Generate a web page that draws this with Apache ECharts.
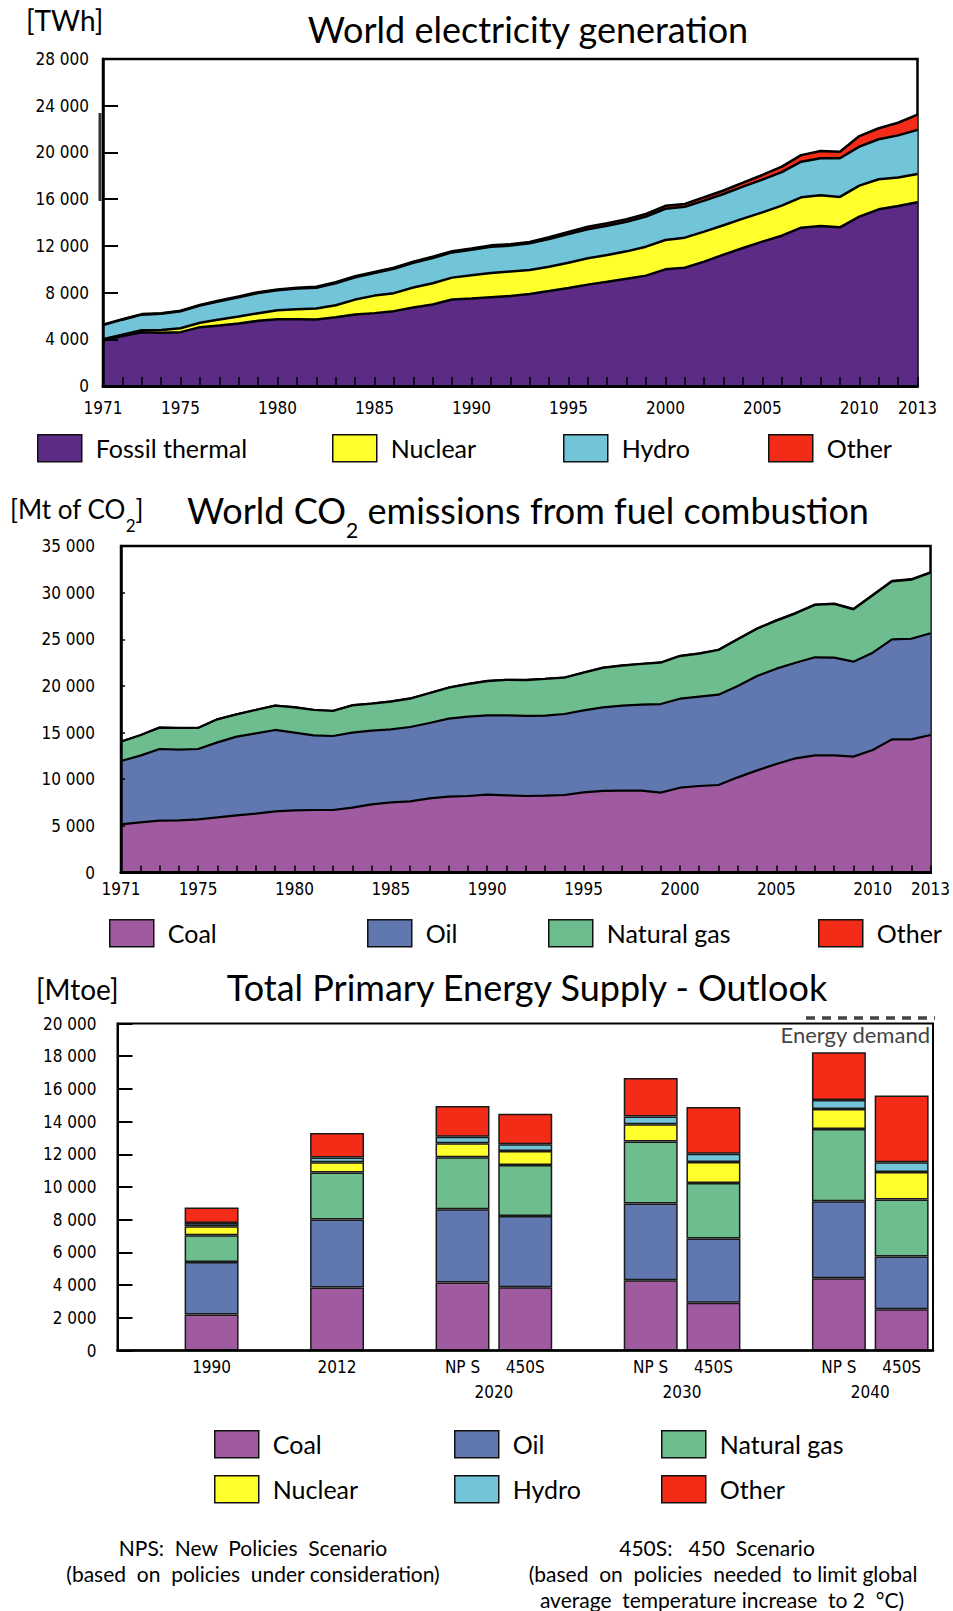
<!DOCTYPE html>
<html><head><meta charset="utf-8">
<script src="https://cdn.jsdelivr.net/npm/echarts@6/dist/echarts.min.js"></script>
<style>html,body{margin:0;padding:0;background:#fff}#c{width:953px;height:1611px}</style>
</head><body><div id="c"></div>
<script>
// ---------- DATA ----------
const years = ['1971','1972','1973','1974','1975','1976','1977','1978','1979','1980','1981','1982','1983','1984','1985','1986','1987','1988','1989','1990','1991','1992','1993','1994','1995','1996','1997','1998','1999','2000','2001','2002','2003','2004','2005','2006','2007','2008','2009','2010','2011','2012','2013'];
const yearLabels = ['1971','1975','1980','1985','1990','1995','2000','2005','2010','2013'];

// World electricity generation [TWh]
const elecFossil  = [3900,4270,4610,4560,4610,5040,5180,5350,5580,5720,5720,5690,5890,6120,6240,6410,6720,6980,7400,7490,7600,7700,7880,8130,8390,8680,8930,9190,9450,9990,10130,10650,11250,11820,12360,12870,13560,13700,13590,14500,15130,15410,15730];
const elecNuclear = [110,130,160,230,340,370,510,600,650,770,850,940,1030,1280,1500,1540,1710,1820,1880,1990,2080,2110,2060,2080,2170,2260,2280,2340,2480,2510,2570,2570,2510,2510,2510,2570,2600,2630,2600,2660,2570,2450,2430];
const elecHydro   = [1200,1280,1340,1400,1450,1480,1570,1650,1740,1710,1770,1790,1880,1910,1940,2080,2110,2160,2160,2190,2250,2210,2280,2370,2450,2480,2510,2540,2570,2680,2650,2650,2680,2740,2800,2880,3050,3170,3310,3340,3430,3600,3770];
const elecOther   = [40,42,45,48,50,55,58,62,65,70,75,78,82,86,90,95,100,104,108,110,112,114,120,160,190,210,210,210,230,250,240,290,300,340,400,460,560,620,560,900,940,1080,1310];

// World CO2 emissions from fuel combustion [Mt of CO2]
const co2Coal  = [5160,5380,5560,5590,5700,5910,6130,6310,6560,6660,6700,6700,6950,7310,7520,7630,7950,8130,8200,8340,8270,8200,8240,8310,8590,8740,8770,8770,8560,9090,9270,9380,10200,10950,11630,12240,12560,12560,12420,13130,14270,14270,14740];
const co2Oil   = [6790,7150,7680,7580,7540,8040,8430,8610,8720,8330,8000,7930,8040,7900,7830,7970,8080,8360,8500,8500,8580,8600,8580,8680,8790,8970,9110,9220,9500,9540,9580,9680,9790,10110,10220,10250,10510,10470,10180,10430,10720,10790,10900];
const co2Gas   = [2070,2180,2290,2320,2250,2470,2390,2500,2610,2720,2720,2680,2930,2890,2970,3040,3180,3320,3500,3680,3790,3830,3930,3890,4040,4220,4290,4360,4430,4570,4610,4790,5000,5070,5150,5290,5610,5750,5610,6150,6220,6330,6500];
const co2Other = [10,10,11,11,12,12,13,13,14,14,15,15,16,16,17,18,18,19,20,20,21,22,22,23,24,25,26,27,28,29,30,32,33,35,36,38,40,42,44,46,48,50,52];

// Total Primary Energy Supply - Outlook [Mtoe]
const tpesLabels = ['', '1990', '', '2012', '', 'NP S', '450S', '', 'NP S', '450S', '', 'NP S', '450S'];
const tpesGroups = ['', '', '', '', '', '2020', '2020', '', '2030', '2030', '', '2040', '2040'];
const tpesCoal    = [null,2200,null,3850,null,4160,3870,null,4300,2920,null,4420,2530];
const tpesOil     = [null,3220,null,4160,null,4480,4350,null,4690,3930,null,4710,3220];
const tpesGas     = [null,1630,null,2870,null,3180,3120,null,3790,3400,null,4420,3490];
const tpesNuclear = [null,550,null,630,null,860,860,null,1060,1280,null,1220,1670];
const tpesHydro   = [null,200,null,290,null,390,410,null,470,510,null,550,610];
const tpesOther   = [null,940,null,1500,null,1880,1870,null,2360,2850,null,2920,4080];

// ---------- STYLE ----------
const C = {
  fossil:'#5C2B86', nuclear:'#FFFF2B', hydro:'#72C4D9', other:'#F22C17',
  coal:'#A05AA0', oil:'#6077AF', gas:'#6DBD8E'
};
const SANS = "Lato,'Open Sans',sans-serif";
const labelBase = {color:'#000', fontFamily:"'DejaVu Sans Condensed','DejaVu Sans',sans-serif", fontSize:17};

const chart = echarts.init(document.getElementById('c'), null, {renderer:'svg'});

function tickLbl(sep){ return v => v === 0 ? '0' : (v/1000) + sep + '000'; }

function areaSeries(name, data, color, stack, xi, z, lw){
  return {type:'line', name, data, stack, xAxisIndex:xi, yAxisIndex:xi,
    symbol:'none', showSymbol:false, z,
    lineStyle:{color:'#000', width:lw},
    itemStyle:{color}, areaStyle:{color, opacity:1}};
}
function barSeries(name, data, color){
  return {type:'bar', name, data, stack:'tpes', xAxisIndex:2, yAxisIndex:2,
    barWidth:'86%', itemStyle:{color, borderColor:'#1a1a1a', borderWidth:1.5}};
}

function legendItem(name, left, top){
  return {left, top, padding:0, icon:'rect', itemWidth:44, itemHeight:27, selectedMode:false,
    data:[name], itemStyle:{borderColor:'#111', borderWidth:1.5},
    textStyle:{color:'#000', fontFamily:SANS, fontSize:25, padding:[0,0,0,9]}};
}

function txt(x, y, text, size, extra){
  return {type:'text', x, y, style:Object.assign({text, fill:'#000',
    font: size + 'px ' + SANS, textAlign:'center', textVerticalAlign:'middle', align:'center', verticalAlign:'middle'}, extra||{})};
}
function subTxt(x, y, parts, size, subSize, align){
  const rich = {a:{fontSize:size, fontFamily:SANS, color:'#000', padding:[0,0,12,0], verticalAlign:'bottom'},
                s:{fontSize:subSize, fontFamily:SANS, color:'#000', verticalAlign:'bottom'}};
  const text = parts.map((p,i)=> (i%2===0 ? '{a|' : '{s|') + p + '}').join('');
  return {type:'text', x, y, style:{text, rich, fill:'#000', font:size+'px '+SANS,
    textAlign:align, align, textVerticalAlign:'middle', verticalAlign:'middle'}};
}

const option = {
  backgroundColor:'#fff',
  animation:false,
  grid:[
    {left:103, top:59, width:814.5, height:327, show:true, borderColor:'#000', borderWidth:2.5},
    {left:121, top:546, width:816, height:326.5, show:true, borderColor:'#000', borderWidth:2.5},
    {left:117.5, top:1023.5, width:815.5, height:327, show:true, borderColor:'#000', borderWidth:2}
  ],
  xAxis:[
    {type:'category', gridIndex:0, data:years, boundaryGap:false, z:10,
     axisLine:{lineStyle:{color:'#000', width:3}},
     axisTick:{inside:true, length:9, interval:0, lineStyle:{color:'#000', width:1.5}},
     axisLabel:Object.assign({interval:(i,v)=>yearLabels.includes(v), margin:13}, labelBase)},
    {type:'category', gridIndex:1, data:years, boundaryGap:false, z:10,
     axisLine:{lineStyle:{color:'#000', width:3}},
     axisTick:{inside:true, length:7, interval:0, lineStyle:{color:'#000', width:1.5}},
     axisLabel:Object.assign({interval:(i,v)=>yearLabels.includes(v), margin:8}, labelBase)},
    {type:'category', gridIndex:2, data:tpesLabels, z:10,
     axisLine:{lineStyle:{color:'#000', width:2.5}},
     axisTick:{show:false},
     axisLabel:Object.assign({interval:0, margin:8}, labelBase)},
    {type:'value', gridIndex:2, min:0, max:tpesLabels.length, interval:1, position:'bottom',
     axisLine:{show:false}, axisTick:{show:false}, splitLine:{show:false},
     axisLabel:Object.assign({margin:33, showMinLabel:true, showMaxLabel:true,
       formatter:v => (tpesGroups[v-1] && tpesGroups[v-1] === tpesGroups[v]) ? tpesGroups[v] : ''}, labelBase)}
  ],
  yAxis:[
    {type:'value', gridIndex:0, min:0, max:28000, interval:4000, z:10,
     axisLine:{show:true, lineStyle:{color:'#000', width:2.5}},
     axisTick:{show:true, inside:true, length:15, lineStyle:{color:'#000', width:2}},
     splitLine:{show:false},
     axisLabel:Object.assign({formatter:tickLbl(' '), margin:14}, labelBase)},
    {type:'value', gridIndex:1, min:0, max:35000, interval:5000, z:10,
     axisLine:{show:true, lineStyle:{color:'#000', width:2.5}},
     axisTick:{show:true, inside:true, length:4, lineStyle:{color:'#000', width:1.5}},
     splitLine:{show:false},
     axisLabel:Object.assign({formatter:tickLbl(' '), margin:26}, labelBase)},
    {type:'value', gridIndex:2, min:0, max:20000, interval:2000, z:10,
     axisLine:{show:true, lineStyle:{color:'#000', width:2}},
     axisTick:{show:true, inside:true, length:15, lineStyle:{color:'#000', width:2}},
     splitLine:{show:false},
     axisLabel:Object.assign({formatter:tickLbl(' '), margin:21}, labelBase)}
  ],
  legend:[
    legendItem('Fossil thermal', 37, 434),
    legendItem('Nuclear', 332, 434),
    legendItem('Hydro', 563, 434),
    legendItem('Other', 768, 434),
    legendItem('Coal', 109, 919),
    legendItem('Oil', 367, 919),
    legendItem('Natural gas', 548, 919),
    legendItem('Other', 818, 919),
    legendItem('Coal', 214, 1430),
    legendItem('Oil', 454, 1430),
    legendItem('Natural gas', 661, 1430),
    legendItem('Nuclear', 214, 1475),
    legendItem('Hydro', 454, 1475),
    legendItem('Other', 661, 1475)
  ],
  series:[
    areaSeries('Fossil thermal', elecFossil, C.fossil, 'elec', 0, 9, 2.5),
    areaSeries('Nuclear', elecNuclear, C.nuclear, 'elec', 0, 8, 2.5),
    areaSeries('Hydro', elecHydro, C.hydro, 'elec', 0, 7, 2.5),
    areaSeries('Other', elecOther, C.other, 'elec', 0, 6, 2.5),
    areaSeries('Coal', co2Coal, C.coal, 'co2', 1, 9, 2.2),
    areaSeries('Oil', co2Oil, C.oil, 'co2', 1, 8, 2.2),
    areaSeries('Natural gas', co2Gas, C.gas, 'co2', 1, 7, 2.2),
    areaSeries('Other', co2Other, C.other, 'co2', 1, 6, 2.2),
    barSeries('Coal', tpesCoal, C.coal),
    barSeries('Oil', tpesOil, C.oil),
    barSeries('Natural gas', tpesGas, C.gas),
    barSeries('Nuclear', tpesNuclear, C.nuclear),
    barSeries('Hydro', tpesHydro, C.hydro),
    barSeries('Other', tpesOther, C.other)
  ],
  graphic:[
    txt(26, 20, '[TWh]', 28, {textAlign:'left', align:'left'}),
    txt(528, 29, 'World electricity generation', 36),
    {type:'rect', shape:{x:98.5, y:113, width:3, height:88}, style:{fill:'#333'}},
    subTxt(10, 515, ['[Mt of CO', '2', ']'], 26, 17, 'left'),
    subTxt(528, 516, ['World CO', '2', ' emissions from fuel combustion'], 36, 21, 'center'),
    txt(36, 989, '[Mtoe]', 28, {textAlign:'left', align:'left'}),
    txt(527, 987, 'Total Primary Energy Supply - Outlook', 36),
    {type:'line', shape:{x1:806, y1:1018, x2:935, y2:1018}, style:{stroke:'#444', lineWidth:3.5, lineDash:[9,7]}},
    txt(930, 1034, 'Energy demand', 22, {textAlign:'right', align:'right', fill:'#444'}),
    txt(253, 1547, 'NPS:  New  Policies  Scenario', 21),
    txt(253, 1573, '(based  on  policies  under consideration)', 21),
    txt(717, 1547, '450S:   450  Scenario', 21),
    txt(723, 1573, '(based  on  policies  needed  to limit global', 21),
    txt(722, 1599, 'average  temperature increase  to 2  \u00B0C)', 21)
  ]
};
chart.setOption(option);
</script>
</body></html>
